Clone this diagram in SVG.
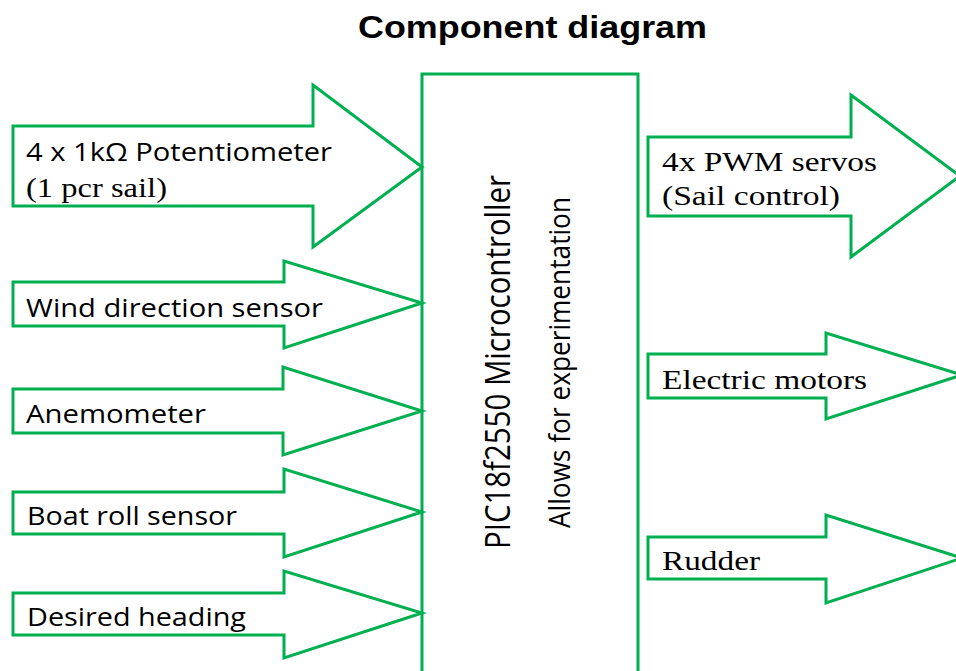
<svg xmlns="http://www.w3.org/2000/svg" width="956" height="671" viewBox="0 0 956 671">
<style>
.shape{fill:#ffffff;stroke:#00B050;stroke-width:3;stroke-linejoin:miter}
.sans{font-family:"Open Sans","Liberation Sans",sans-serif;font-size:26px;fill:#000}
.serif{font-family:"Liberation Serif","Times New Roman",serif;font-size:28px;fill:#000}
.title{font-family:"Liberation Sans",Arial,sans-serif;font-weight:bold;font-size:31px;fill:#000}
.vert{font-family:"Open Sans","Liberation Sans",sans-serif;fill:#000}
</style>
<rect width="956" height="671" fill="#ffffff"/>
<text class="title" x="358" y="38" textLength="349" lengthAdjust="spacingAndGlyphs">Component diagram</text>

<g id="microcontroller">
<rect class="shape" x="422" y="74" width="216" height="620"/>
<text class="vert" font-size="35" transform="translate(510,549) rotate(-90)" textLength="374" lengthAdjust="spacingAndGlyphs">PIC18f2550 Microcontroller</text>
<text class="vert" font-size="29" transform="translate(570,528) rotate(-90)" textLength="331" lengthAdjust="spacingAndGlyphs">Allows for experimentation</text>
</g>

<g id="potentiometer">
<polygon class="shape" points="13,126 313,126 313,85 422,167 313,247 313,206 13,206"/>
<text class="sans" x="26" y="161" textLength="306" lengthAdjust="spacingAndGlyphs">4 x 1kΩ Potentiometer</text>
<text class="serif" x="26" y="197" textLength="141" lengthAdjust="spacingAndGlyphs">(1 pcr sail)</text>
</g>

<g id="wind-direction">
<polygon class="shape" points="13,282 284,282 284,261 422,303 284,348 284,326 13,326"/>
<text class="sans" x="26" y="317" textLength="297" lengthAdjust="spacingAndGlyphs">Wind direction sensor</text>
</g>

<g id="anemometer">
<polygon class="shape" points="13,389 283,389 283,367 422,411 283,455 283,433 13,433"/>
<text class="sans" x="26" y="423" textLength="180" lengthAdjust="spacingAndGlyphs">Anemometer</text>
</g>

<g id="boat-roll">
<polygon class="shape" points="13,492 284,492 284,469 422,512 284,557 284,534 13,534"/>
<text class="sans" x="27" y="525" textLength="210" lengthAdjust="spacingAndGlyphs">Boat roll sensor</text>
</g>

<g id="desired-heading">
<polygon class="shape" points="13,593 284,593 284,571 422,613 284,658 284,635 13,635"/>
<text class="sans" x="27" y="626" textLength="219" lengthAdjust="spacingAndGlyphs">Desired heading</text>
</g>

<g id="pwm-servos">
<polygon class="shape" points="648,137 851,137 851,95 960,176 851,257 851,216 648,216"/>
<text class="serif" x="662" y="171" textLength="215" lengthAdjust="spacingAndGlyphs">4x PWM servos</text>
<text class="serif" x="662" y="205" textLength="178" lengthAdjust="spacingAndGlyphs">(Sail control)</text>
</g>

<g id="electric-motors">
<polygon class="shape" points="648,354 826,354 826,333 962,375 826,419 826,398 648,398"/>
<text class="serif" x="662" y="389" textLength="205" lengthAdjust="spacingAndGlyphs">Electric motors</text>
</g>

<g id="rudder">
<polygon class="shape" points="648,537 826,537 826,515 962,558 826,603 826,579 648,579"/>
<text class="serif" x="662" y="570" textLength="98" lengthAdjust="spacingAndGlyphs">Rudder</text>
</g>

<g id="connectors"></g>
</svg>
